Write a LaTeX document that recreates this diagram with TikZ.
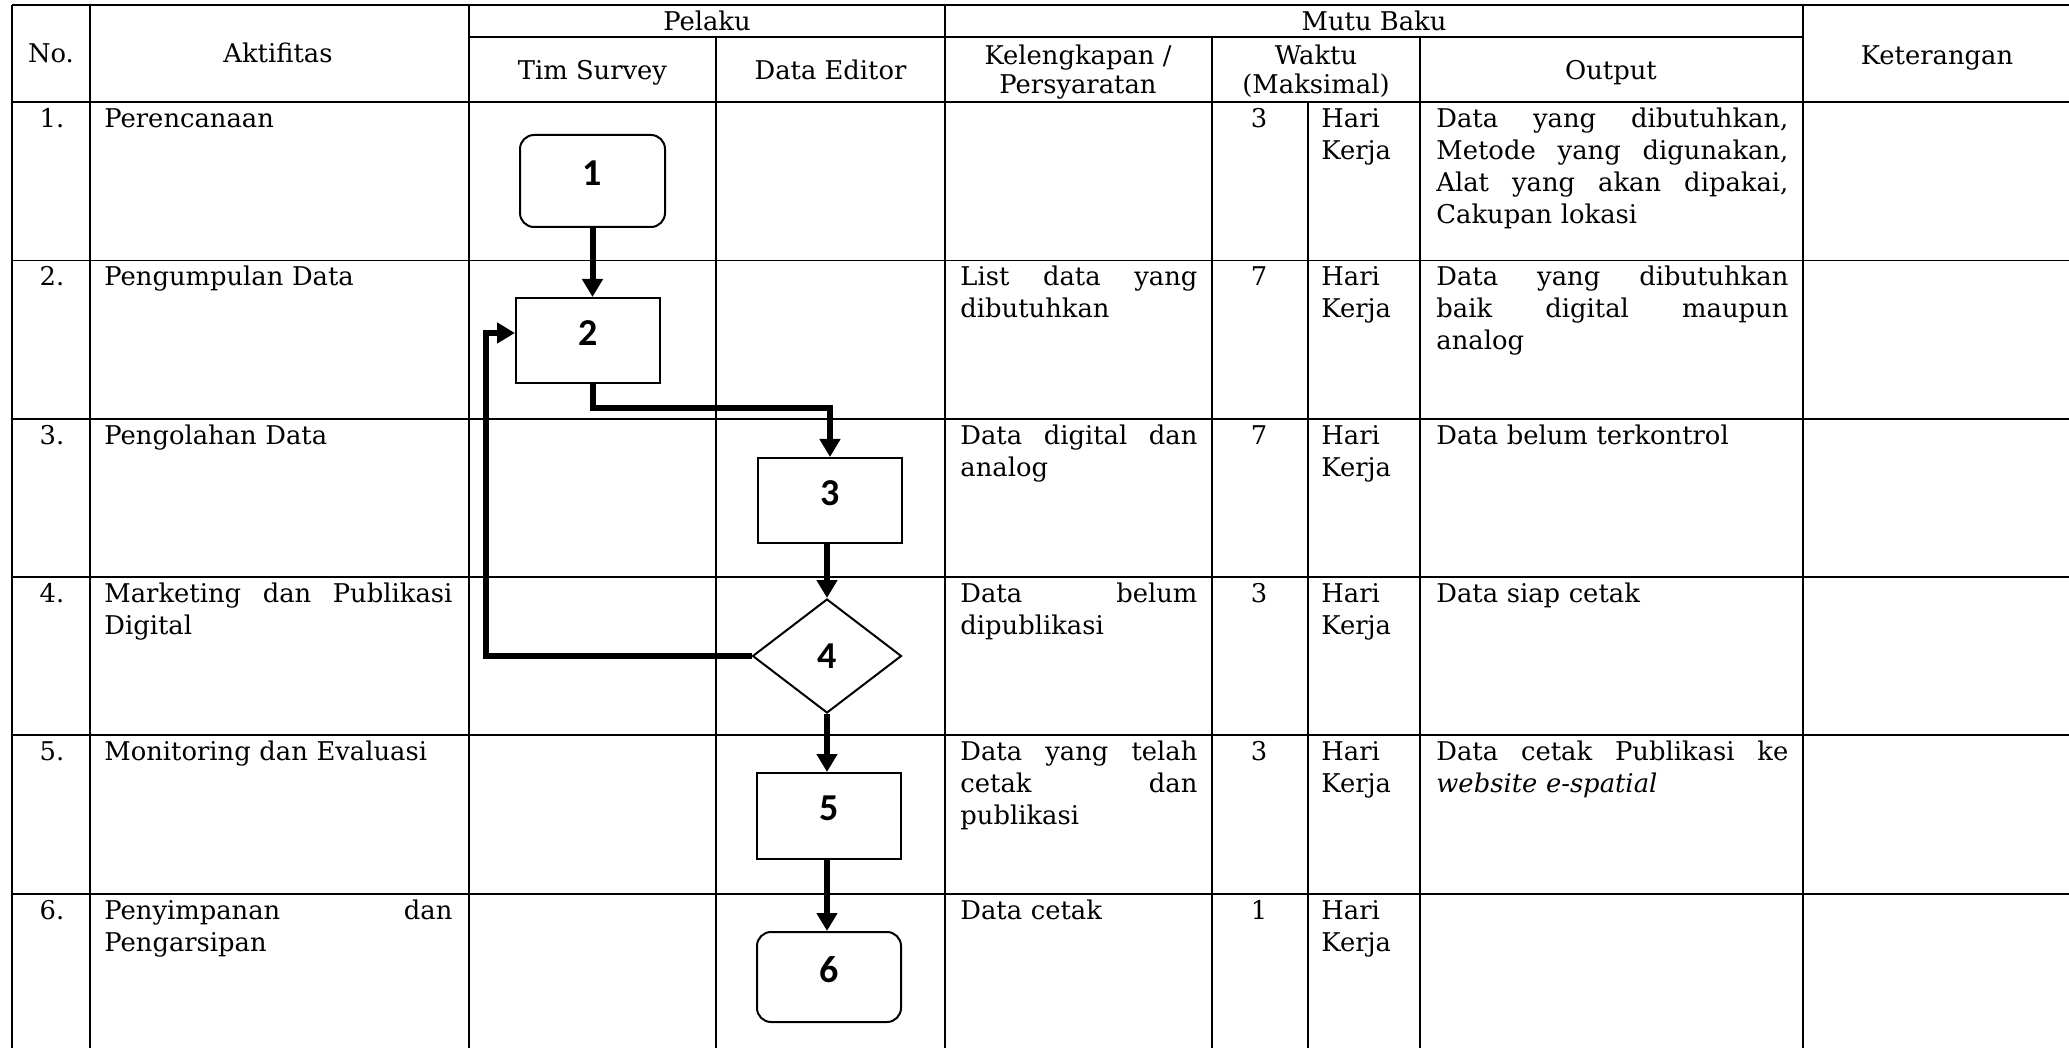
\documentclass[tikz,border=0pt]{standalone}
\usepackage{fontspec}
\setmainfont{DejaVu Serif}
\newfontfamily\numfont{Carlito}
\usetikzlibrary{arrows.meta,shapes.geometric}
\newcommand\cellfont{\fontsize{12.9pt}{16pt}\selectfont}
\newcommand\jl[2]{\makebox[#1][s]{\spaceskip=0pt\xspaceskip=0pt\relax #2}}
\newlength\wA \setlength\wA{174pt}
\newlength\wK \setlength\wK{118.5pt}
\newlength\wO \setlength\wO{176pt}
\tikzset{
  grid/.style={line width=0.9pt},
  hd/.style={inner sep=0pt, anchor=base, font=\cellfont},
  txt/.style={inner sep=0pt, anchor=base west, align=left, font=\cellfont},
  txtA/.style={txt, text width=\wA},
  txtK/.style={txt, text width=\wK},
  txtO/.style={txt, text width=\wO},
  hari/.style={txt, text width=50pt},
  num/.style={inner sep=0pt, font=\numfont\bfseries\fontsize{19pt}{19pt}\selectfont},
  stepbox/.style={draw, line width=1pt, minimum width=72pt, minimum height=42.5pt, inner sep=0pt},
  roundbox/.style={stepbox, rounded corners=7pt},
  decision/.style={draw, diamond, line width=1pt, minimum width=74.5pt, minimum height=57pt, inner sep=0pt, aspect=1.3},
  conn/.style={line width=3pt, -{Triangle[width=10pt,length=9pt]}},
}
\begin{document}
\begin{tikzpicture}[x=0.5pt,y=-0.5pt]
\path[use as bounding box, fill=white] (0,0) rectangle (2069,1048);
% ---- grid ----
\draw[grid] (12,5) -- (2069,5);
\draw[grid] (469,37) -- (1803,37);
\foreach \yy in {102,260.5,419,577,735,894} \draw[grid] (12,\yy) -- (2069,\yy);
\foreach \xx in {12,90,469,945,1803} \draw[grid] (\xx,5) -- (\xx,1048);
\foreach \xx in {716,1212,1420} \draw[grid] (\xx,37) -- (\xx,1048);
\draw[grid] (1308,102) -- (1308,1048);
% ---- header ----
\node[hd] (hNo) at (51,63) {No.};
\node[hd] (hAkt) at (278,63) {Aktifitas};
\node[hd] (hPel) at (707,31) {Pelaku};
\node[hd] (hTim) at (592.5,80) {Tim Survey};
\node[hd] (hDE) at (830.5,80) {Data Editor};
\node[hd] (hMB) at (1374,31) {Mutu Baku};
\node[hd] (hKel1) at (1078,65) {Kelengkapan /};
\node[hd] (hKel2) at (1078,94) {Persyaratan};
\node[hd] (hW1) at (1316,65) {Waktu};
\node[hd] (hW2) at (1316,94) {(Maksimal)};
\node[hd] (hOut) at (1611,80) {Output};
\node[hd] (hKet) at (1937,65) {Keterangan};
% ---- row numbers ----
\node[hd] (r1) at (52,127.5) {1.};
\node[hd] (r2) at (52,286) {2.};
\node[hd] (r3) at (52,444.5) {3.};
\node[hd] (r4) at (52,602.5) {4.};
\node[hd] (r5) at (52,760.5) {5.};
\node[hd] (r6) at (52,919.5) {6.};
% ---- aktifitas ----
\node[txtA] (a1) at (104,127.5) {Perencanaan};
\node[txtA] (a2) at (104,286) {Pengumpulan Data};
\node[txtA] (a3) at (104,444.5) {Pengolahan Data};
\node[txtA] (a4) at (104,602.5) {\jl\wA{Marketing dan Publikasi}\\Digital};
\node[txtA] (a5) at (104,760.5) {Monitoring dan Evaluasi};
\node[txtA] (a6) at (104,919.5) {\jl\wA{Penyimpanan dan}\\Pengarsipan};
% ---- kelengkapan ----
\node[txtK] (k2) at (960,286) {\jl\wK{List data yang}\\dibutuhkan};
\node[txtK] (k3) at (960,444.5) {\jl\wK{Data digital dan}\\analog};
\node[txtK] (k4) at (960,602.5) {\jl\wK{Data belum}\\dipublikasi};
\node[txtK] (k5) at (960,760.5) {\jl\wK{Data yang telah}\\\jl\wK{cetak dan}\\publikasi};
\node[txtK] (k6) at (960,919.5) {Data cetak};
% ---- waktu ----
\node[hd] (w1) at (1259,127.5) {3};
\node[hd] (w2) at (1259,286) {7};
\node[hd] (w3) at (1259,444.5) {7};
\node[hd] (w4) at (1259,602.5) {3};
\node[hd] (w5) at (1259,760.5) {3};
\node[hd] (w6) at (1259,919.5) {1};
\node[hari] (h1) at (1321,127.5) {Hari\\Kerja};
\node[hari] (h2) at (1321,286) {Hari\\Kerja};
\node[hari] (h3) at (1321,444.5) {Hari\\Kerja};
\node[hari] (h4) at (1321,602.5) {Hari\\Kerja};
\node[hari] (h5) at (1321,760.5) {Hari\\Kerja};
\node[hari] (h6) at (1321,919.5) {Hari\\Kerja};
% ---- output ----
\node[txtO] (o1) at (1436,127.5) {\jl\wO{Data yang dibutuhkan,}\\\jl\wO{Metode yang digunakan,}\\\jl\wO{Alat yang akan dipakai,}\\Cakupan lokasi};
\node[txtO] (o2) at (1436,286) {\jl\wO{Data yang dibutuhkan}\\\jl\wO{baik digital maupun}\\analog};
\node[txtO] (o3) at (1436,444.5) {Data belum terkontrol};
\node[txtO] (o4) at (1436,602.5) {Data siap cetak};
\node[txtO] (o5) at (1436,760.5) {\jl\wO{Data cetak Publikasi ke}\\\textit{website e-spatial}};
% ---- flowchart ----
\node[roundbox, minimum height=46pt, minimum width=72.5pt, label={[num,yshift=3.75pt]center:1}] (b1) at (592.5,181) {};
\node[stepbox, label={[num,yshift=3.75pt]center:2}] (b2) at (588,340.5) {};
\node[stepbox, label={[num,yshift=3.75pt]center:3}] (b3) at (830,500.5) {};
\node[decision] (d4) at (827,656) {\numfont\bfseries\fontsize{19pt}{19pt}\selectfont 4};
\node[stepbox, minimum height=43pt, label={[num,yshift=3.75pt]center:5}] (b5) at (829,816) {};
\node[roundbox, minimum height=45pt, label={[num,yshift=3.75pt]center:6}] (b6) at (829,977) {};
\coordinate (lp) at (486,333);
\draw[conn] (b1.south) -- (b1.south |- b2.north);
\draw[conn] (b1.south |- b2.south) -- ++(0,24) -| (b3.north);
\draw[conn] (d4.north |- b3.south) -- (d4.north);
\draw[conn] (d4.west) -| (lp) -- (b2.west |- lp);
\draw[conn] (d4.south) -- (d4.south |- b5.north);
\draw[conn] (d4.south |- b5.south) -- (d4.south |- b6.north);
\end{tikzpicture}
\end{document}
